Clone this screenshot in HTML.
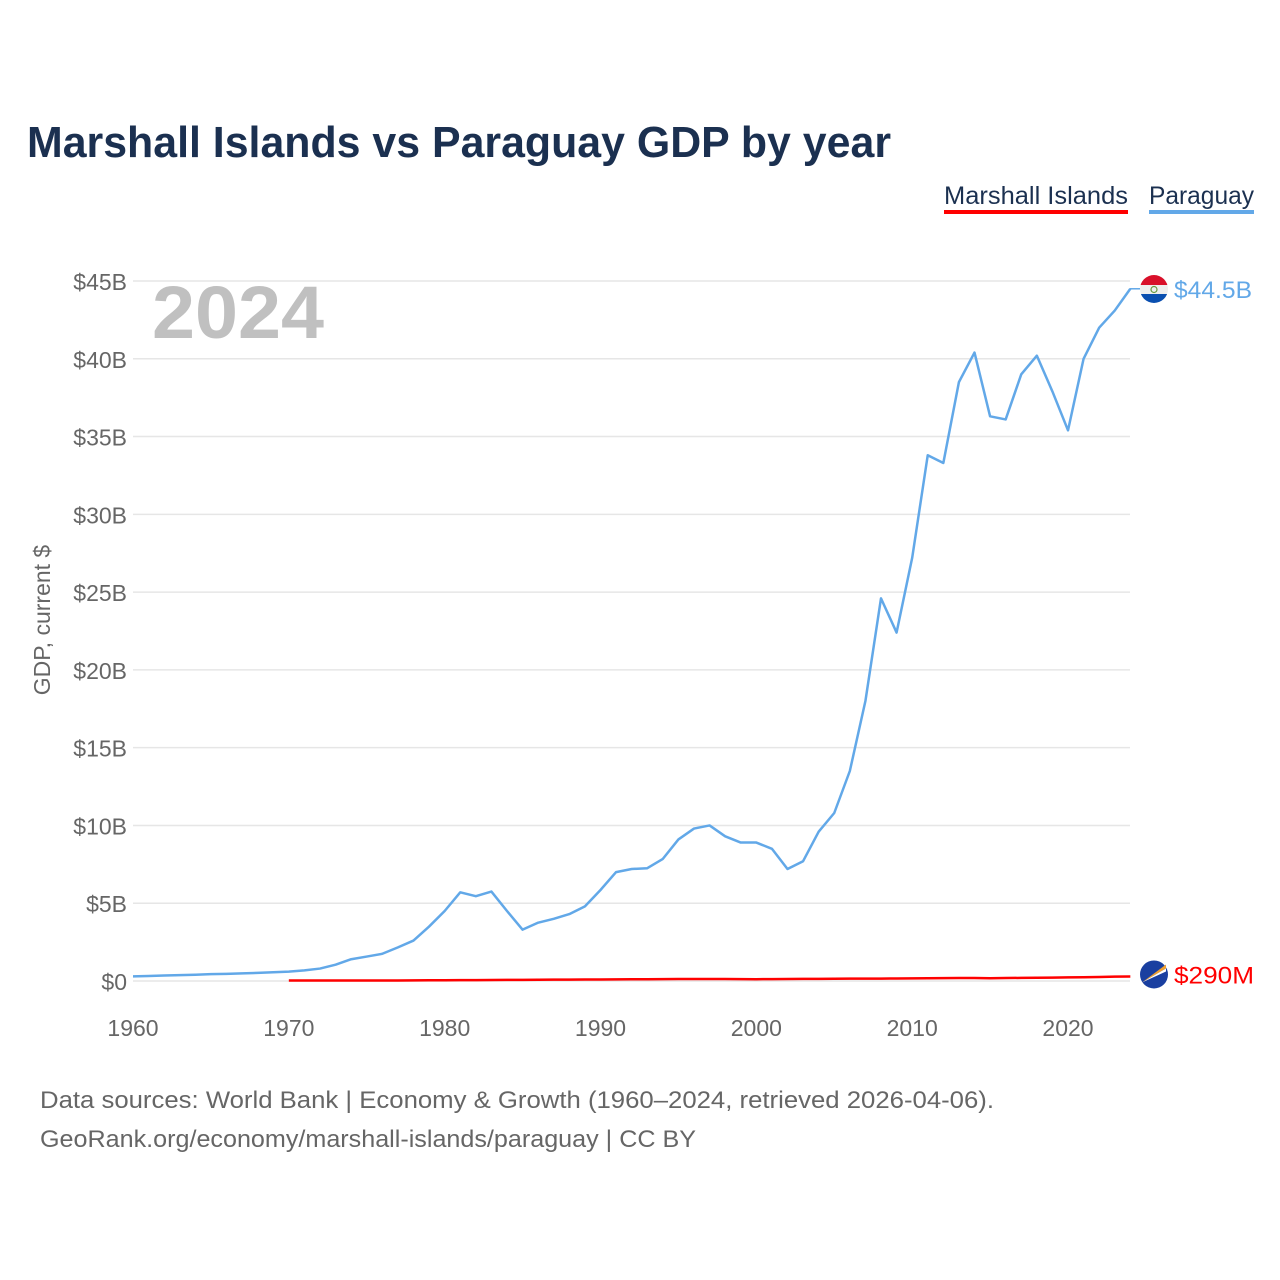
<!DOCTYPE html>
<html><head><meta charset="utf-8">
<style>
body{margin:0;background:#fff;font-family:"Liberation Sans",sans-serif;}
#wrap{position:relative;width:1280px;height:1280px;overflow:hidden;}
</style></head>
<body>
<div id="wrap">
<svg id="chart" width="1280" height="1280">
<defs><clipPath id="pyclip"><circle cx="1154" cy="289" r="14"/></clipPath></defs>
</svg>
</div>
<script>
const years = [];
for (let y = 1960; y <= 2024; y++) years.push(y);
const paraguayGDP = [0.3,0.32,0.35,0.38,0.4,0.44,0.46,0.49,0.52,0.56,0.6,0.68,0.8,1.05,1.4,1.57,1.75,2.16,2.6,3.5,4.5,5.7,5.45,5.75,4.5,3.3,3.75,4.0,4.3,4.8,5.85,7.0,7.2,7.25,7.85,9.1,9.8,10.0,9.3,8.9,8.9,8.5,7.2,7.7,9.6,10.8,13.5,18.0,24.6,22.4,27.2,33.8,33.3,38.5,40.4,36.3,36.1,39.0,40.2,37.9,35.4,40.0,42.0,43.1,44.5];
const marshallYears = [];
for (let y = 1970; y <= 2024; y++) marshallYears.push(y);
const marshallGDP = [0.03,0.03,0.03,0.03,0.03,0.03,0.03,0.035,0.04,0.045,0.05,0.055,0.06,0.065,0.07,0.075,0.08,0.085,0.09,0.095,0.1,0.105,0.11,0.115,0.12,0.125,0.125,0.125,0.125,0.12,0.115,0.12,0.13,0.135,0.14,0.145,0.15,0.15,0.155,0.16,0.165,0.175,0.185,0.19,0.195,0.18,0.19,0.2,0.21,0.22,0.23,0.24,0.26,0.28,0.29];
const yTicks = [0,5,10,15,20,25,30,35,40,45];
const yTickLabels = ["$0","$5B","$10B","$15B","$20B","$25B","$30B","$35B","$40B","$45B"];
const xTicks = [1960,1970,1980,1990,2000,2010,2020];

const NS = "http://www.w3.org/2000/svg";
const svg = document.getElementById("chart");
const xS = y => 133 + (y - 1960) * (935 / 60);
const yS = v => 981 - v * (700 / 45);
function mk(tag, attrs, text, parent) {
  const e = document.createElementNS(NS, tag);
  for (const k in attrs) e.setAttribute(k, attrs[k]);
  if (text !== undefined) e.textContent = text;
  (parent || svg).appendChild(e);
  return e;
}
let t;
t = mk("text",{x:27,y:157,"font-size":44,"font-weight":"bold",fill:"#1b3050",textLength:864,lengthAdjust:"spacingAndGlyphs"},"Marshall Islands vs Paraguay GDP by year");


t = mk("text",{x:944,y:204,"font-size":25,fill:"#1b3050",textLength:184,lengthAdjust:"spacingAndGlyphs"},"Marshall Islands");


t = mk("rect",{x:944,y:210,width:184,height:4,fill:"#ff0000"});


t = mk("text",{x:1149,y:204,"font-size":25,fill:"#1b3050",textLength:105,lengthAdjust:"spacingAndGlyphs"},"Paraguay");


t = mk("rect",{x:1149,y:210,width:105,height:4,fill:"#62a8e8"});



yTicks.forEach((v,i) => {
  const g = mk("line",{x1:133,x2:1130,y1:yS(v),y2:yS(v),stroke:"#e6e6e6","stroke-width":1.5});
  
  
  const l = mk("text",{x:127,y:yS(v)+9,"font-size":23,fill:"#666","text-anchor":"end"},yTickLabels[i]);
  
  
});
xTicks.forEach(y => {
  const l = mk("text",{x:xS(y),y:1036,"font-size":23,fill:"#666","text-anchor":"middle"},String(y));
  
  
});
t = mk("text",{x:0,y:0,"font-size":23,fill:"#666","text-anchor":"middle",transform:"translate(50,620) rotate(-90)"},"GDP, current $");


t = mk("text",{x:152,y:338,"font-size":74,"font-weight":"bold",fill:"#c0c0c0",textLength:172,lengthAdjust:"spacingAndGlyphs"},"2024");



const pPts = years.map((y,i) => xS(y)+","+yS(paraguayGDP[i])).join(" ");
t = mk("polyline",{points:pPts,fill:"none",stroke:"#62a8e8","stroke-width":2.5,"stroke-linejoin":"round"});


const mPts = marshallYears.map((y,i) => xS(y)+","+yS(marshallGDP[i])).join(" ");
t = mk("polyline",{points:mPts,fill:"none",stroke:"#ff0000","stroke-width":2.5});



// end labels
const pEnd = yS(paraguayGDP[paraguayGDP.length-1]);
t = mk("line",{x1:1130,x2:1140,y1:pEnd,y2:pEnd,stroke:"#62a8e8","stroke-width":1.5});


const fg = mk("g",{"clip-path":"url(#pyclip)"});


mk("rect",{x:1140,y:275,width:28,height:10,fill:"#d9102a"},undefined,fg);
mk("rect",{x:1140,y:285,width:28,height:9,fill:"#eeeeee"},undefined,fg);
mk("rect",{x:1140,y:294,width:28,height:10,fill:"#0a4fb0"},undefined,fg);
mk("circle",{cx:1154,cy:289.5,r:3,fill:"none",stroke:"#6a9a40","stroke-width":1.2},undefined,fg);
t = mk("text",{x:1174,y:pEnd+9,"font-size":24,fill:"#62a8e8",textLength:78,lengthAdjust:"spacingAndGlyphs"},"$44.5B");


const mEnd = yS(marshallGDP[marshallGDP.length-1]) - 1;
t = mk("circle",{cx:1154,cy:mEnd-1,r:14,fill:"#1a3fa0"});


mk("path",{d:`M1142,${mEnd+7} L1166,${mEnd-11} L1166,${mEnd-7} Z`,fill:"#f0a030"});
mk("path",{d:`M1142,${mEnd+7} L1166,${mEnd-7} L1166,${mEnd-4} Z`,fill:"#fff"});
t = mk("text",{x:1174,y:mEnd+8,"font-size":24,fill:"#ff0000",textLength:80,lengthAdjust:"spacingAndGlyphs"},"$290M");



t = mk("text",{x:40,y:1108,"font-size":24,fill:"#666",textLength:954,lengthAdjust:"spacingAndGlyphs"},"Data sources: World Bank | Economy & Growth (1960–2024, retrieved 2026-04-06).");


t = mk("text",{x:40,y:1147,"font-size":24,fill:"#666",textLength:656,lengthAdjust:"spacingAndGlyphs"},"GeoRank.org/economy/marshall-islands/paraguay | CC BY");


</script>
</body></html>
